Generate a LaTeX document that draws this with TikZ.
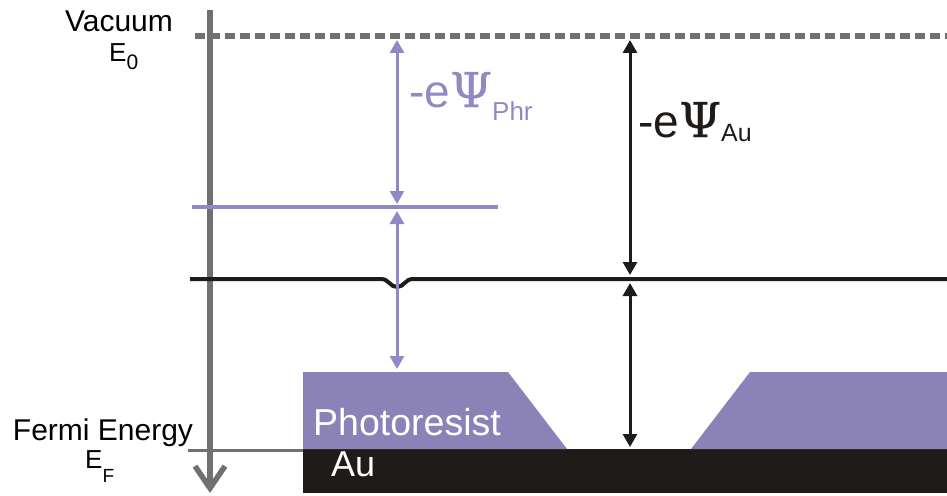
\documentclass[tikz,border=0pt]{standalone}
\usepackage{fontspec}
\setmainfont{Liberation Sans}
\newfontfamily\psifont[FakeBold=0.4]{DejaVu Serif}
\usetikzlibrary{arrows.meta}
\definecolor{axisgray}{RGB}{112,112,112}
\definecolor{prline}{RGB}{143,138,198}
\definecolor{prfill}{RGB}{139,131,184}
\definecolor{aublack}{RGB}{31,27,25}
\begin{document}
\begin{tikzpicture}[x=1pt,y=-1pt,
  lbl/.style={inner sep=0pt, font=\fontsize{30}{34}\selectfont},
  biglbl/.style={inner sep=0pt, anchor=base west, font=\fontsize{46}{50}\selectfont},
  dimarrow/.style={line width=3pt, {Triangle[length=13pt,width=14pt]}-{Triangle[length=13pt,width=14pt]}},
  level/.style={line width=4pt},
]
\useasboundingbox (0,0) rectangle (947,495);
% coordinates
\coordinate (axtop) at (210,10);
\coordinate (axbot) at (210,493);
\coordinate (vacL) at (195,36);
\coordinate (vacR) at (947,36);
\coordinate (efL) at (188,450);
\coordinate (efR) at (303,450);
\coordinate (phrL) at (192,207);
\coordinate (phrR) at (498,207);
\coordinate (auL) at (190,279);
\coordinate (auR) at (947,279);
\coordinate (pa1) at (397,40);
\coordinate (pa2) at (397,204);
\coordinate (pa3) at (397,211);
\coordinate (pa4) at (397,369);
\coordinate (ba1) at (630,40);
\coordinate (ba2) at (630,275);
\coordinate (ba3) at (630,283);
\coordinate (ba4) at (630,447);
% substrate and photoresist
\fill[aublack] (303,449) rectangle (947,493);
\fill[prfill] (303,372) -- (508,372) -- (567,449) -- (303,449) -- cycle;
\fill[prfill] (691,449) -- (750,372) -- (947,372) -- (947,449) -- cycle;
% levels
\draw[axisgray, line width=3pt] (efL) -- (efR);
\draw[axisgray, line width=5.5pt, dash pattern=on 10pt off 5pt] (vacL) -- (vacR);
\draw[axisgray, line width=5.5pt, -{Straight Barb[length=22pt,width=30pt]}] (axtop) -- (axbot);
\draw[prline, level] (phrL) -- (phrR);
\draw[aublack, level] (auL) -- (381,279) .. controls (389,279) and (390,287) .. (397,287) .. controls (404,287) and (405,279) .. (413,279) -- (auR);
% arrows
\draw[prline, dimarrow] (pa1) -- (pa2);
\draw[prline, dimarrow] (pa3) -- (pa4);
\draw[aublack, dimarrow] (ba1) -- (ba2);
\draw[aublack, dimarrow] (ba3) -- (ba4);
% labels
\node[lbl, anchor=base] (vac) at (119,32) {Vacuum};
\node[inner sep=0pt, anchor=base west, font=\fontsize{26}{28}\selectfont] (e0) at (109,61) {E\raisebox{-9pt}{\fontsize{21}{21}\selectfont 0}};
\node[lbl, anchor=base] (fermi) at (103,440) {Fermi Energy};
\node[inner sep=0pt, anchor=base west, font=\fontsize{26}{28}\selectfont] (ef) at (85,468) {E\raisebox{-14pt}{\fontsize{19}{19}\selectfont F}};
\node[biglbl, text=prline] (phr) at (409,107) {-e{\psifont\fontsize{48}{50}\selectfont Ψ}\raisebox{-13pt}{\fontsize{26}{30}\selectfont Phr}};
\node[biglbl, text=aublack] (au) at (638,137) {-e{\psifont\fontsize{48}{50}\selectfont Ψ}\raisebox{-4pt}{\fontsize{25}{30}\selectfont Au}};
\node[inner sep=0pt, anchor=base west, text=white, font=\fontsize{37.5}{40}\selectfont] (pr) at (313,435) {Photoresist};
\node[inner sep=0pt, anchor=base west, text=white, font=\fontsize{36}{40}\selectfont] (aulbl) at (331,476) {Au};
\end{tikzpicture}
\end{document}
